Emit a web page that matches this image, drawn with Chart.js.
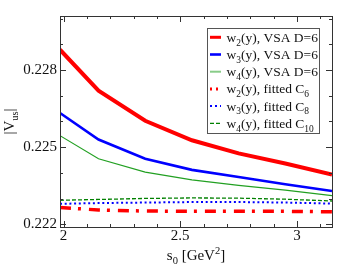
<!DOCTYPE html>
<html>
<head>
<meta charset="utf-8">
<script src="https://cdn.jsdelivr.net/npm/chart.js@4/dist/chart.umd.min.js"></script>
<style>
  html, body { margin: 0; padding: 0; background: #fff; }
  #c { display: block; }
</style>
</head>
<body>
<canvas id="c" width="355" height="274"></canvas>
<script>
// s0 values (GeV^2)
const s0 = [1.985, 2.15, 2.35, 2.55, 2.75, 2.95, 3.15];

// |Vus| for each curve
const w2VSA = [0.22879, 0.22720, 0.22603, 0.22527, 0.22476, 0.22437, 0.22394];
const w3VSA = [0.22633, 0.22530, 0.22455, 0.22412, 0.22384, 0.22356, 0.22330];
const w4VSA = [0.22545, 0.22455, 0.22403, 0.22373, 0.22352, 0.22333, 0.22312];
const w2Fit = [0.22266, 0.22256, 0.22252, 0.22251, 0.22251, 0.22251, 0.22249];
const w3Fit = [0.22280, 0.22283, 0.22285, 0.22287, 0.22287, 0.22285, 0.22281];
const w4Fit = [0.22294, 0.22297, 0.22301, 0.22303, 0.22302, 0.22298, 0.22291];

const xTicks = [2, 2.5, 3];
const yTicks = [0.222, 0.225, 0.228];

// legend labels, "_" = subscript piece
const labels = [
  ['w', '_2', '(y), VSA D=6'],
  ['w', '_3', '(y), VSA D=6'],
  ['w', '_4', '(y), VSA D=6'],
  ['w', '_2', '(y), fitted C', '_6'],
  ['w', '_3', '(y), fitted C', '_8'],
  ['w', '_4', '(y), fitted C', '_10']
];

const SERIF = '"Liberation Serif", "DejaVu Serif", serif';

function pts(ys) {
  return s0.map((x, i) => ({ x: x, y: ys[i] }));
}

function line(data, color, width, dash) {
  return {
    data: pts(data),
    borderColor: color,
    borderWidth: width,
    borderDash: dash || [],
    borderCapStyle: 'butt',
    pointRadius: 0,
    tension: 0,
    fill: false,
    clip: 0
  };
}

const datasets = [
  line(w2VSA, '#ff0000', 4),
  line(w3VSA, '#0000ff', 2.6),
  line(w4VSA, '#22a022', 1.2),
  line(w2Fit, '#ff0000', 3.5, [11, 7, 3, 8]),
  line(w3Fit, '#0000ff', 2, [2, 2.7]),
  line(w4Fit, '#008000', 1.3, [4, 2])
];

// draws text with sub/superscripts, returns end x
function richText(ctx, parts, x, y, size) {
  for (const p of parts) {
    let t = p, s = size, dy = 0;
    if (p[0] === '_') { t = p.slice(1); s = size * 0.7; dy = size * 0.28; }
    else if (p[0] === '^') { t = p.slice(1); s = size * 0.7; dy = -size * 0.4; }
    ctx.font = s + 'px ' + SERIF;
    ctx.fillText(t, x, y + dy);
    x += ctx.measureText(t).width;
  }
  return x;
}

function richWidth(ctx, parts, size) {
  let w = 0;
  for (const p of parts) {
    let t = p, s = size;
    if (p[0] === '_' || p[0] === '^') { t = p.slice(1); s = size * 0.7; }
    ctx.font = s + 'px ' + SERIF;
    w += ctx.measureText(t).width;
  }
  return w;
}

const decor = {
  id: 'decor',
  afterDatasetsDraw(chart) {
    const ctx = chart.ctx;
    const a = chart.chartArea;
    const xs = chart.scales.x, ys = chart.scales.y;
    ctx.save();
    ctx.strokeStyle = '#333';
    ctx.lineWidth = 1;

    // inward ticks on all four sides
    ctx.beginPath();
    for (let i = 20; i <= 31; i++) {
      const v = i / 10;
      const px = Math.round(xs.getPixelForValue(v)) + 0.5;
      if (px < a.left || px > a.right) continue;
      const len = (i % 5 === 0) ? 6 : 3;
      ctx.moveTo(px, a.bottom); ctx.lineTo(px, a.bottom - len);
      ctx.moveTo(px, a.top); ctx.lineTo(px, a.top + len);
    }
    for (let i = 222; i <= 230; i++) {
      const v = i / 1000;
      const py = Math.round(ys.getPixelForValue(v)) + 0.5;
      if (py < a.top || py > a.bottom) continue;
      const len = (i % 3 === 0) ? 6 : 3;
      ctx.moveTo(a.left, py); ctx.lineTo(a.left + len, py);
      ctx.moveTo(a.right, py); ctx.lineTo(a.right - len, py);
    }
    ctx.stroke();

    // frame
    ctx.strokeRect(Math.round(a.left) + 0.5, Math.round(a.top) + 0.5,
      Math.round(a.right - a.left), Math.round(a.bottom - a.top));

    // legend
    const lx = 207.5, ly = 28.5, lw = 112, lh = 105;
    ctx.fillStyle = '#fff';
    ctx.fillRect(lx, ly, lw, lh);
    ctx.strokeStyle = '#555';
    ctx.strokeRect(lx, ly, lw, lh);
    ctx.textBaseline = 'alphabetic';
    labels.forEach((parts, i) => {
      const cy = 37.3 + i * 17.2;
      const ds = datasets[i];
      ctx.save();
      ctx.strokeStyle = ds.borderColor;
      ctx.lineWidth = Math.min(ds.borderWidth, 3);
      if (i === 2) { ctx.strokeStyle = '#88cc88'; ctx.lineWidth = 2; }
      ctx.setLineDash(i === 3 ? [2, 4] : i === 4 ? [2, 3] : ds.borderDash);
      ctx.beginPath();
      ctx.moveTo(210, cy); ctx.lineTo(221, cy);
      ctx.stroke();
      ctx.restore();
      ctx.fillStyle = '#111';
      richText(ctx, parts, 226.5, cy + 4.5, 13.5);
    });

    // axis titles
    ctx.fillStyle = '#111';
    const xt = ['s', '_0', ' [GeV', '^2', ']'];
    const xw = richWidth(ctx, xt, 15);
    richText(ctx, xt, (a.left + a.right) / 2 - xw / 2, 260, 15);

    const yt = ['|V', '_us', '|'];
    const yw = richWidth(ctx, yt, 15);
    ctx.translate(14, (a.top + a.bottom) / 2);
    ctx.rotate(-Math.PI / 2);
    richText(ctx, yt, -yw / 2, 0, 15);
    ctx.restore();
  }
};

new Chart(document.getElementById('c'), {
  type: 'line',
  data: { datasets: datasets },
  options: {
    responsive: false,
    animation: false,
    events: [],
    layout: { padding: { left: 0, top: 16, right: 23, bottom: 0 } },
    plugins: { legend: { display: false }, tooltip: { enabled: false } },
    scales: {
      x: {
        type: 'linear',
        min: 1.985,
        max: 3.15,
        afterBuildTicks: s => { s.ticks = xTicks.map(v => ({ value: v })); },
        afterFit: s => { s.height = 47; },
        grid: { display: false, drawTicks: false },
        border: { display: false },
        ticks: {
          color: '#111',
          padding: 0,
          maxRotation: 0,
          font: { family: SERIF, size: 15 },
          callback: v => String(v)
        }
      },
      y: {
        type: 'linear',
        min: 0.2219,
        max: 0.2301,
        afterBuildTicks: s => { s.ticks = yTicks.map(v => ({ value: v })); },
        afterFit: s => { s.width = 60; },
        grid: { display: false, drawTicks: false },
        border: { display: false },
        ticks: {
          color: '#111',
          padding: 3,
          font: { family: SERIF, size: 15 },
          callback: v => v.toFixed(3)
        }
      }
    }
  },
  plugins: [decor]
});
</script>
</body>
</html>
